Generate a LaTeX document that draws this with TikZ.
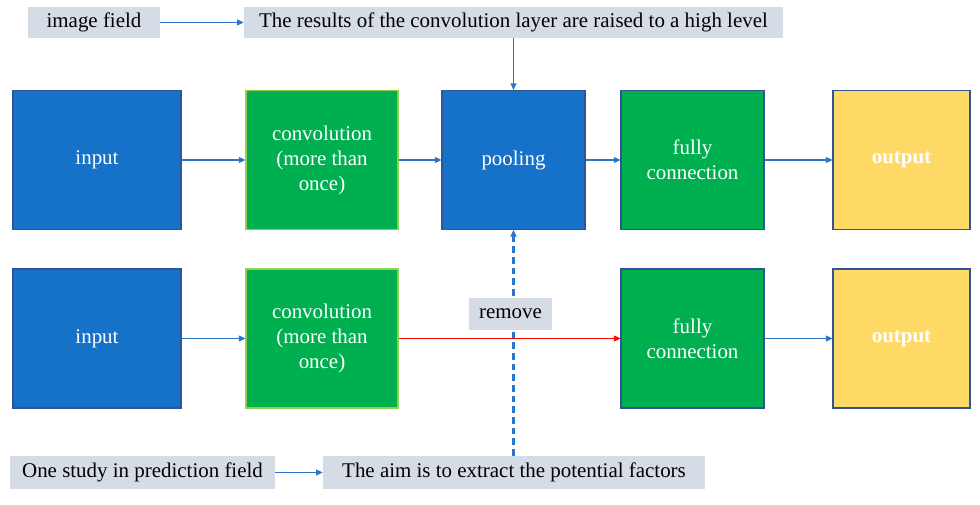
\documentclass[tikz,border=0pt]{standalone}
\usepackage{fontspec}
\setmainfont{Liberation Serif}
\usetikzlibrary{arrows.meta}
\definecolor{boxblue}{RGB}{22,113,201}
\definecolor{boxgreen}{RGB}{0,176,80}
\definecolor{boxyellow}{RGB}{255,217,102}
\definecolor{edgeblue}{RGB}{47,85,151}
\definecolor{edgegreen}{RGB}{146,208,80}
\definecolor{tagfill}{RGB}{214,220,229}
\definecolor{linkblue}{RGB}{46,117,202}

\begin{document}
\begin{tikzpicture}[x=0.75pt, y=-0.75pt,
    every node/.style={font=\fontsize{15.7}{18.75}\selectfont, inner sep=0pt, align=center},
    blk/.style={draw=edgeblue, line width=0.8pt, text=white, minimum height=104.25pt},
    tag/.style={fill=tagfill, minimum height=23.25pt},
    arr/.style={draw=linkblue, line width=0.9pt, -{Triangle[length=5pt,width=4.5pt]}}]
    \useasboundingbox (0,0) rectangle (980,505);
    % top row
    \node[blk, fill=boxblue, minimum width=126pt] (in1) at (97,160) {input};
    \node[blk, fill=boxgreen, draw=edgegreen, minimum width=114pt] (conv1) at (322,160) {convolution\\(more than\\once)};
    \node[blk, fill=boxblue, minimum width=107.25pt] (pool) at (513.5,160) {pooling};
    \node[blk, fill=boxgreen, minimum width=107.25pt] (fc1) at (692.5,160) {fully\\connection};
    \node[blk, fill=boxyellow, minimum width=102.75pt, font=\fontsize{15.7}{18.75}\selectfont\bfseries] (out1) at (901.5,160) {output};
    % bottom row
    \node[blk, fill=boxblue, minimum width=126pt] (in2) at (97,338.5) {input};
    \node[blk, fill=boxgreen, draw=edgegreen, minimum width=114pt] (conv2) at (322,338.5) {convolution\\(more than\\once)};
    \node[blk, fill=boxgreen, minimum width=107.25pt] (fc2) at (692.5,338.5) {fully\\connection};
    \node[blk, fill=boxyellow, minimum width=102.75pt, font=\fontsize{15.7}{18.75}\selectfont\bfseries] (out2) at (901.5,338.5) {output};
    % labels
    \node[tag, minimum width=99pt] (imgf) at (94,22.5) {image field};
    \node[tag, minimum width=404.25pt] (res) at (513.5,22.5) {The results of the convolution layer are raised to a high level};
    \node[tag, minimum width=198.75pt, minimum height=24.75pt] (study) at (142.5,472.5) {One study in prediction field};
    \node[tag, minimum width=286.5pt, minimum height=24.75pt] (aim) at (514,472.5) {The aim is to extract the potential factors};
    % connectors
    \draw[arr] (imgf) -- (res);
    \draw[arr] (res) -- (pool);
    \draw[arr] (study) -- (aim);
    \draw[arr] (in1) -- (conv1);
    \draw[arr] (conv1) -- (pool);
    \draw[arr] (pool) -- (fc1);
    \draw[arr] (fc1) -- (out1);
    \draw[arr] (in2) -- (conv2);
    \draw[arr] (fc2) -- (out2);
    \draw[arr, line width=1.6pt, dash pattern=on 5pt off 3pt] (aim.north -| pool.south) -- (pool.south);
    \draw[arr, draw=red] (conv2) -- (fc2);
    \node[tag, minimum width=62.25pt, minimum height=24pt] (rm) at (510.5,314) {remove};
\end{tikzpicture}
\end{document}
